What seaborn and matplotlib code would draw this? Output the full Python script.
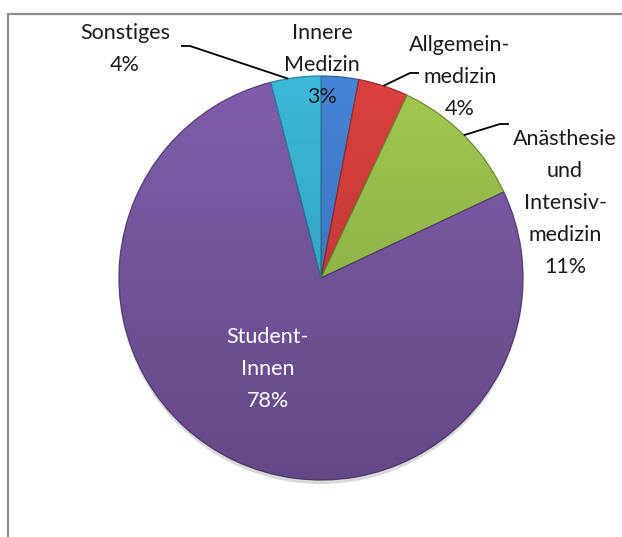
import numpy as np
import matplotlib
matplotlib.use("Agg")
import matplotlib.pyplot as plt
import seaborn as sns
from matplotlib.patches import Circle, Rectangle

# date
kategorien = ["Innere\nMedizin", "Allgemein-\nmedizin", "Anästhesie\nund\nIntensiv-\nmedizin",
              "Student-\nInnen", "Sonstiges"]
anteile = [3, 4, 11, 78, 4]
farben = ["#4584D6", "#DA413E", "#A2C951", "#7F5DAB", "#3DB8DB"]

sns.set_theme(style="white")
plt.rcParams['font.family'] = ['Lato', 'DejaVu Sans']

W, H = 622, 537
fig = plt.figure(figsize=(W / 100, H / 100), dpi=100)
ax = fig.add_axes([0, 0, 1, 1])

mitte = (321, H - 278)
raza = 202

# umbra sub diagrama
for k, a in enumerate([0.10, 0.10, 0.12]):
    ax.add_patch(Circle((mitte[0], mitte[1] - 3 - k), raza + 1 - k, color="gray", alpha=a, lw=0, zorder=0))

pal = sns.color_palette(farben)
wedges, _ = ax.pie(anteile, colors=pal, startangle=90, counterclock=False,
                   center=mitte, radius=raza, wedgeprops=dict(linewidth=0.9))
for w, c in zip(wedges, pal):
    w.set_edgecolor(tuple(np.array(c) * 0.7))
    w.set_zorder(2)

# gradient intunecat spre jos
rgba = np.zeros((256, 1, 4))
rgba[:, 0, 3] = np.linspace(0.0, 0.22, 256)
img = ax.imshow(rgba, extent=(mitte[0] - raza, mitte[0] + raza, mitte[1] - raza, mitte[1] + raza),
                origin="upper", zorder=3, interpolation="bilinear")
cerc = Circle(mitte, raza, transform=ax.transData, facecolor="none", edgecolor="none")
ax.add_patch(cerc)
img.set_clip_path(cerc)

# etichete
poz_etichete = [(322, 65), (460, 77), (565, 203), (268, 369), (125, 49)]
culori_text = ["#1a1a1a", "#1a1a1a", "#1a1a1a", "white", "#1a1a1a"]
for nume, val, (x, y), ct in zip(kategorien, anteile, poz_etichete, culori_text):
    ax.text(x, H - y, f"{nume}\n{val}%", ha="center", va="center", fontsize=15.5,
            color=ct, linespacing=1.75, zorder=5)

# linii de legatura (de la marginea feliei la eticheta)
legaturi = {1: [(410, 73), (419, 73)], 2: [(500, 124), (509, 124)], 4: [(190, 46), (181, 46)]}
for i, puncte in legaturi.items():
    w = wedges[i]
    ang = np.deg2rad((w.theta1 + w.theta2) / 2)
    if i == 4:
        ang = np.deg2rad(w.theta1 + 0.65 * (w.theta2 - w.theta1))
    x0 = mitte[0] + raza * np.cos(ang)
    y0 = mitte[1] + raza * np.sin(ang)
    xs = [x0] + [p[0] for p in puncte]
    ys = [y0] + [H - p[1] for p in puncte]
    ax.plot(xs, ys, color="black", lw=1.3, zorder=6, solid_capstyle="butt")

ax.set_xlim(0, W)
ax.set_ylim(0, H)
ax.set_aspect("auto")
ax.axis("off")

# chenar gri al graficului
fig.patches.append(Rectangle((8 / W, -0.2), 1.5, 1.2 - 14 / H + 0.0, transform=fig.transFigure,
                             fill=False, edgecolor="#8c8c8c", lw=1.6, figure=fig))

fig.savefig("out.png", dpi=100)
